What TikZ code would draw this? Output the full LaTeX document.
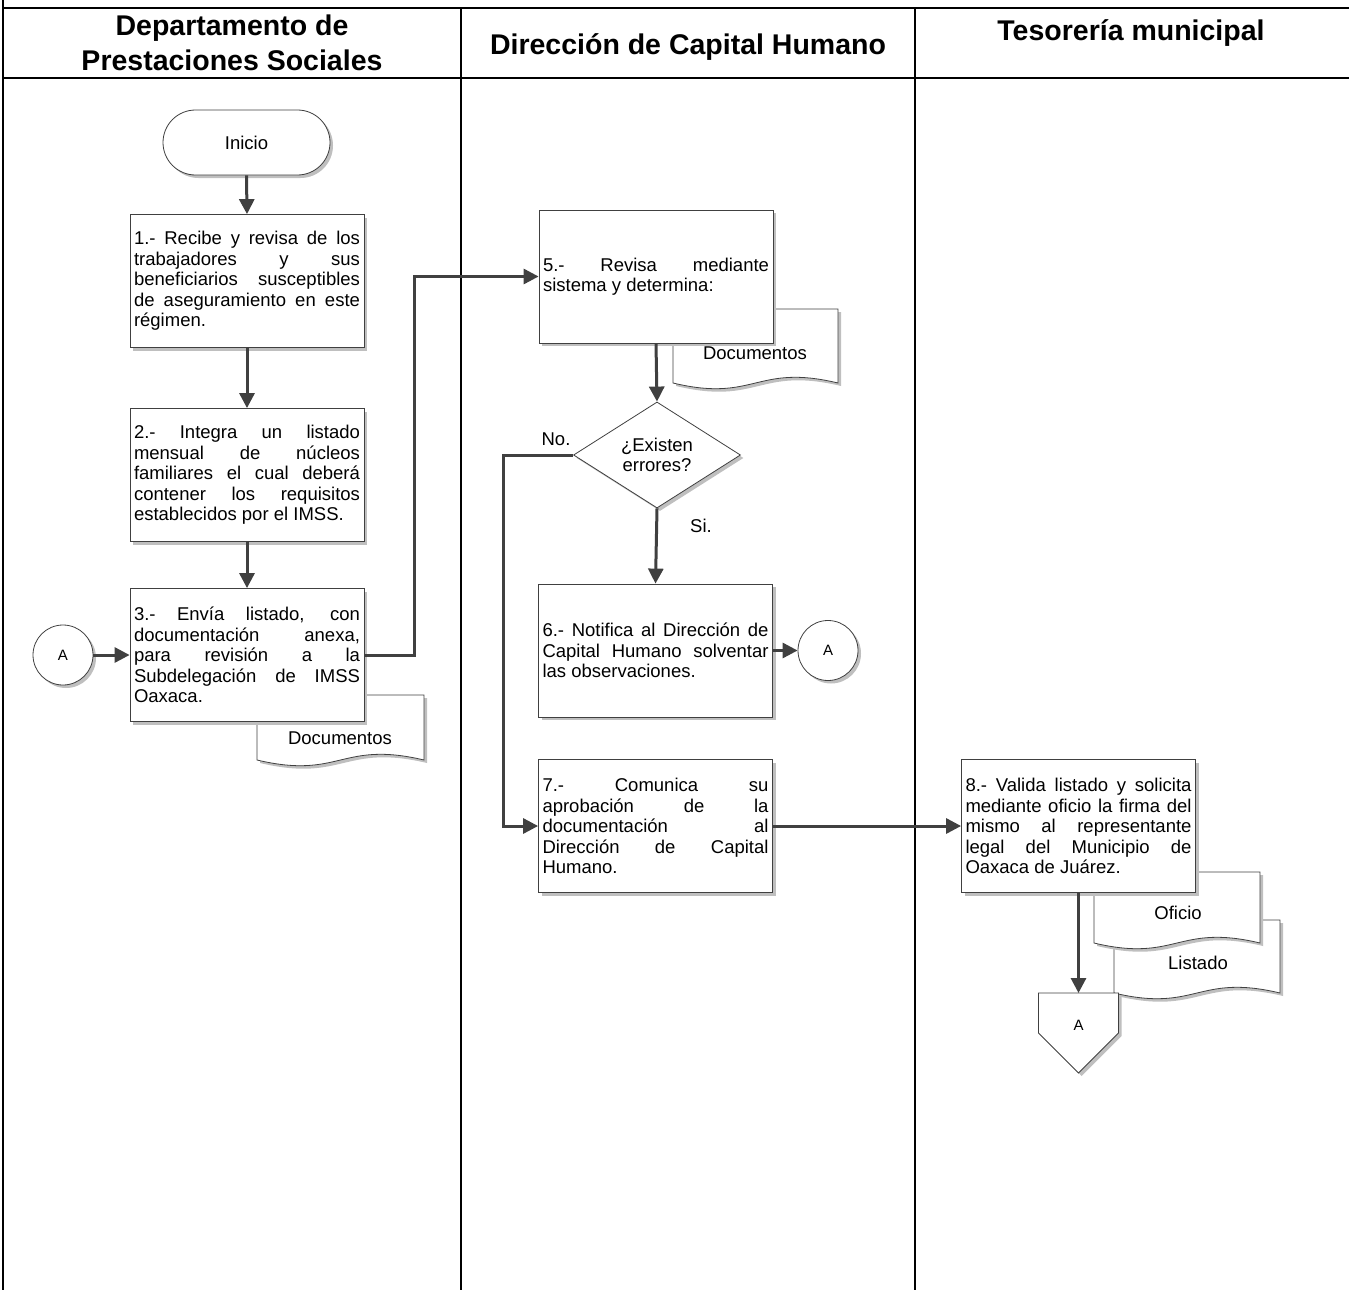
\documentclass[tikz,border=0pt]{standalone}
\usepackage{fontspec}
\setmainfont{Liberation Sans}
\usetikzlibrary{arrows.meta,shapes.geometric,shadows}
\tolerance=10000
\hbadness=10000
\definecolor{conn}{HTML}{404040}
\definecolor{edge}{HTML}{404040}
\newcommand\docshape[5]{% left, top, right, wavebase, amplitude
  \draw[docsty] (#1,#4) -- (#1,#2) -- (#3,#2) -- (#3,#4)
    .. controls ({(#1+#3)/2},{#4-1.8*#5}) and ({(#1+#3)/2},{#4+1.8*#5}) .. (#1,#4) -- cycle;}
\begin{document}
\begin{tikzpicture}[x=1pt,y=-1pt,
  shad/.style={drop shadow={shadow xshift=3pt,shadow yshift=-3pt,fill=black!25,opacity=1}},
  proc/.style={rectangle,draw=edge,line width=0.8pt,fill=white,shad,
    minimum width=234pt,minimum height=133pt,text width=226pt,inner sep=4pt,
    align=justify,font=\fontsize{18.5}{20.5}\selectfont},
  term/.style={rectangle,rounded corners=32.5pt,draw=edge,line width=0.8pt,fill=white,shad,
    minimum width=167pt,minimum height=65pt,font=\fontsize{18.5}{20.5}\selectfont},
  conA/.style={circle,draw=edge,line width=0.8pt,fill=white,shad,minimum size=60pt,inner sep=0pt,
    font=\fontsize{15}{18}\selectfont},
  decis/.style={diamond,draw=edge,line width=0.8pt,fill=white,shad,minimum width=167pt,
    minimum height=99pt,inner sep=0pt,align=center,font=\fontsize{18.5}{20.5}\selectfont},
  docsty/.style={draw=edge,line width=0.8pt,fill=white,shad},
  lbl/.style={font=\fontsize{18.5}{20.5}\selectfont,inner sep=0pt},
  hdr/.style={font=\fontsize{28.5}{35}\selectfont\bfseries,align=center,inner sep=0pt},
  frame/.style={line width=2pt,black},
  arr/.style={conn,line width=3pt,-{Triangle[length=15pt,width=15pt]}},
  ln/.style={conn,line width=3pt}]
\useasboundingbox (0,0) rectangle (1349,1290);
% table frame
\draw[frame] (3,0) -- (3,1290);
\draw[frame] (3,8) -- (1349,8);
\draw[frame] (3,78) -- (1349,78);
\draw[frame] (461,8) -- (461,1290);
\draw[frame] (915,8) -- (915,1290);
\node[hdr] (h1) at (232,43) {Departamento de\\Prestaciones Sociales};
\node[hdr] (h2) at (688,47) {Dirección de Capital Humano};
\node[hdr] (h3) at (1131,33) {Tesorería municipal};
% documents (behind boxes)
\docshape{257}{695}{424}{760}{11}
\node[lbl] (d3) at (340,738) {Documentos};
\docshape{673}{309}{838}{383}{11}
\node[lbl] (d5) at (755,353) {Documentos};
\docshape{1114}{920}{1280}{993}{11}
\node[lbl] (dlist) at (1198,963) {Listado};
\docshape{1094}{872}{1260}{943}{11}
\node[lbl] (dofi) at (1178,913) {Oficio};
% nodes
\node[term] (ini) at (246.5,142.5) {Inicio};
\node[proc] (b1) at (247,281) {1.- Recibe y revisa de los\linebreak trabajadores y sus\linebreak beneficiarios susceptibles\linebreak de aseguramiento en este\linebreak régimen.};
\node[proc] (b2) at (247,475) {2.- Integra un listado\linebreak mensual de núcleos\linebreak familiares el cual deberá\linebreak contener los requisitos\linebreak establecidos por el IMSS.};
\node[proc] (b3) at (247,655) {3.- Envía listado, con\linebreak documentación anexa,\linebreak para revisión a la\linebreak Subdelegación de IMSS\linebreak Oaxaca.};
\node[conA] (a1) at (63,655) {A};
\node[proc] (b5) at (656,276.5) {5.- Revisa mediante\linebreak sistema y determina:};
\node[decis] (dec) at (657,455) {¿Existen\\errores?};
\node[proc] (b6) at (655.5,650.5) {6.- Notifica al Dirección de\linebreak Capital Humano solventar\linebreak las observaciones.};
\node[conA] (a2) at (828,650.5) {A};
\node[proc] (b7) at (655.5,826) {7.- Comunica su\linebreak aprobación de la\linebreak documentación al\linebreak Dirección de Capital\linebreak Humano.};
\node[proc] (b8) at (1078.5,826) {8.- Valida listado y solicita\linebreak mediante oficio la firma del\linebreak mismo al representante\linebreak legal del Municipio de\linebreak Oaxaca de Juárez.};
% off-page connector
\coordinate (offtop) at (1078.5,993);
\draw[docsty] (1038.5,993) -- (1118.5,993) -- (1118.5,1033) -- (1078.5,1073) -- (1038.5,1033) -- cycle;
\node[font=\fontsize{15}{18}\selectfont,inner sep=0pt] (offA) at (1078.5,1025) {A};
% labels
\node[lbl] (no) at (556,439) {No.};
\node[lbl] (si) at (701,526) {Si.};
% connectors
\draw[arr] (ini.south) -- (b1.north);
\draw[arr] (b1.south) -- (b2.north);
\draw[arr] (b2.south) -- (b3.north);
\draw[arr] (a1.east) -- (b3.west);
\draw[arr] (b3.east) -- ++(50,0) |- (b5.west);
\draw[arr] (b5.south) -- (dec.north);
\draw[arr] (dec.west) -- ++(-70,0) |- (b7.west);
\draw[arr] (dec.south) -- (b6.north);
\draw[arr] (b6.east) -- (a2.west);
\draw[arr] (b7.east) -- (b8.west);
\draw[arr] (b8.south) -- (offtop);
\end{tikzpicture}
\end{document}
